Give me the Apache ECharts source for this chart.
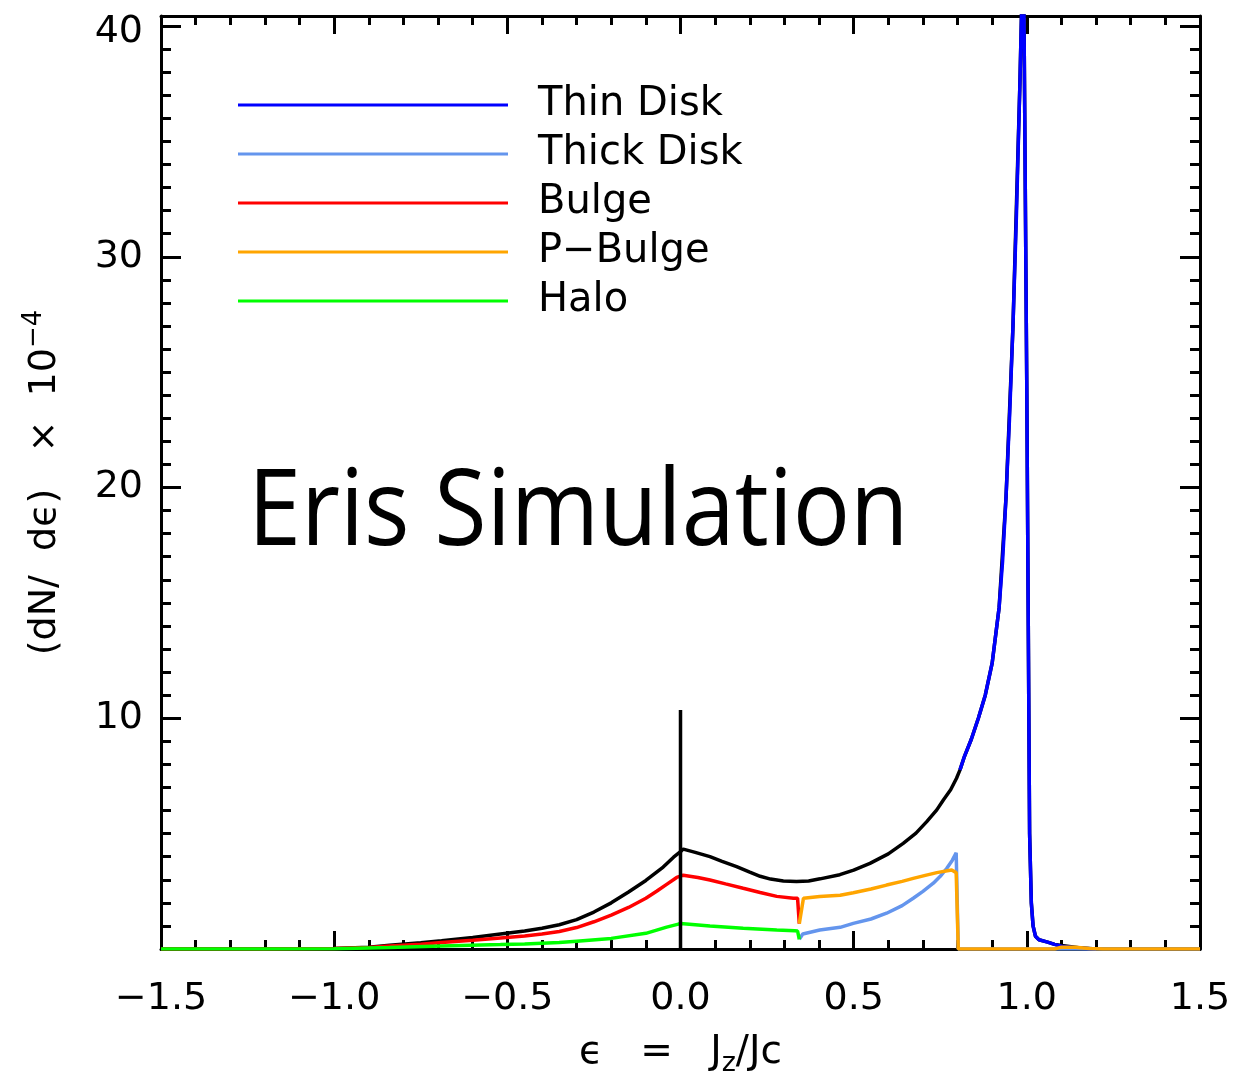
<!DOCTYPE html>
<html>
<head>
<meta charset="utf-8">
<script src="https://cdn.jsdelivr.net/npm/echarts@6/dist/echarts.min.js"></script>
<style>
html,body{margin:0;padding:0;background:#fff;}
#chart{width:1239px;height:1077px;}
</style>
</head>
<body>
<div id="chart"></div>
<script>
// ---- data ----
const xTickLabels = ['−1.5', '−1.0', '−0.5', '0.0', '0.5', '1.0', '1.5'];
const yTickLabels = ['', '10', '20', '30', '40'];
const seriesNames = ['Thin Disk', 'Thick Disk', 'Bulge', 'P−Bulge', 'Halo'];

const totalData = [
  [-1.5, 0], [-1.2, 0], [-1.0, 0.02], [-0.9, 0.08], [-0.84, 0.16], [-0.75, 0.27], [-0.69, 0.36],
  [-0.6, 0.5], [-0.52, 0.65], [-0.45, 0.78], [-0.4, 0.9], [-0.35, 1.05], [-0.3, 1.27],
  [-0.25, 1.6], [-0.2, 2.0], [-0.15, 2.47], [-0.1, 2.97], [-0.05, 3.55], [-0.02, 3.98],
  [0.0, 4.22], [0.008, 4.33], [0.04, 4.2], [0.085, 4.0], [0.12, 3.8],
  [0.162, 3.57], [0.2, 3.33], [0.23, 3.15], [0.26, 3.03], [0.297, 2.95], [0.335, 2.92],
  [0.37, 2.95], [0.403, 3.04], [0.46, 3.22], [0.5, 3.42], [0.547, 3.71], [0.6, 4.12],
  [0.643, 4.58], [0.68, 5.02], [0.711, 5.52], [0.74, 6.03], [0.759, 6.46], [0.78, 6.9],
  [0.797, 7.4], [0.807, 7.76], [0.82, 8.35], [0.84, 9.1], [0.86, 10.0], [0.88, 11.0],
  [0.9, 12.4], [0.92, 14.8], [0.94, 19.6], [0.96, 27.0], [0.98, 37.5], [0.99, 44.0],
  [1.0, 24.0], [1.008, 5.0], [1.013, 2.0], [1.018, 1.0], [1.025, 0.55], [1.035, 0.4],
  [1.06, 0.3], [1.08, 0.2], [1.1, 0.15], [1.15, 0.05], [1.2, 0], [1.5, 0]
];
const thinDiskData = [
  [0.807, 7.76], [0.82, 8.35], [0.84, 9.1], [0.86, 10.0], [0.88, 11.0], [0.9, 12.4],
  [0.92, 14.8], [0.93, 16.8], [0.94, 19.6], [0.95, 23.0], [0.96, 27.0], [0.97, 31.8],
  [0.98, 37.5], [0.99, 44.0], [1.0, 24.0], [1.008, 5.0], [1.013, 2.0], [1.018, 1.0],
  [1.025, 0.55], [1.035, 0.4], [1.06, 0.3], [1.08, 0.2], [1.1, 0.12], [1.15, 0.03], [1.2, 0]
];
const thickDiskData = [
  [0.343, 0.42], [0.353, 0.65], [0.402, 0.82], [0.461, 0.94], [0.499, 1.11], [0.55, 1.3],
  [0.595, 1.55], [0.64, 1.88], [0.672, 2.2], [0.7, 2.5], [0.73, 2.85], [0.75, 3.15],
  [0.769, 3.5], [0.785, 3.85], [0.796, 4.17], [0.802, 0], [1.5, 0]
];
const bulgeData = [
  [-1.5, 0], [-1.2, 0], [-1.0, 0.02], [-0.9, 0.06], [-0.84, 0.13], [-0.75, 0.21], [-0.69, 0.28],
  [-0.6, 0.38], [-0.52, 0.48], [-0.45, 0.56], [-0.4, 0.65], [-0.35, 0.76], [-0.3, 0.93],
  [-0.25, 1.18], [-0.2, 1.47], [-0.15, 1.8], [-0.1, 2.2], [-0.069, 2.5], [-0.04, 2.8],
  [-0.011, 3.1], [0.008, 3.2], [0.05, 3.1], [0.085, 2.99], [0.13, 2.82], [0.181, 2.63],
  [0.23, 2.45], [0.278, 2.28], [0.326, 2.2], [0.338, 2.2], [0.343, 1.1]
];
const pBulgeData = [
  [0.343, 1.1], [0.355, 2.2], [0.402, 2.27], [0.461, 2.33], [0.499, 2.44], [0.55, 2.6],
  [0.595, 2.77], [0.64, 2.93], [0.672, 3.06], [0.71, 3.2], [0.74, 3.31], [0.783, 3.42],
  [0.796, 3.31], [0.802, 0], [1.08, 0], [1.1, 0.08], [1.14, 0.08], [1.18, 0.02], [1.22, 0], [1.5, 0]
];
const haloData = [
  [-1.5, 0], [-1.2, 0], [-1.0, 0.01], [-0.84, 0.07], [-0.69, 0.13], [-0.52, 0.19], [-0.45, 0.22],
  [-0.35, 0.28], [-0.3, 0.34], [-0.2, 0.46], [-0.1, 0.68], [-0.04, 0.95], [-0.006, 1.08],
  [0.0, 1.1], [0.085, 1.0], [0.181, 0.9], [0.278, 0.82], [0.33, 0.79], [0.338, 0.78], [0.343, 0.42]
];
const zeroMarkerData = [[0, 0], [0, 10.36]];

const colors = {
  total: '#000000', thin: '#0000ff', thick: '#6495ed', bulge: '#ff0000', pbulge: '#ffa500', halo: '#00ff00'
};

// ---- chart ----
const FONT = 'DejaVu Sans';
const chart = echarts.init(document.getElementById('chart'), null, { renderer: 'canvas' });

function lineSeries(name, data, color) {
  return {
    name: name, type: 'line', data: data, xAxisIndex: 0, yAxisIndex: 0,
    symbol: 'none', showSymbol: false, smooth: false, clip: true,
    lineStyle: { color: color, width: 3.5 }, itemStyle: { color: color },
    emphasis: { disabled: true }, silent: true, z: 3
  };
}

const frameAxisLine = { show: true, onZero: false, lineStyle: { color: '#000', width: 3 } };

const option = {
  animation: false,
  backgroundColor: '#ffffff',
  grid: [
    { left: 161, right: 39, top: 16, bottom: 128, containLabel: false, outerBoundsMode: 'none' },
    { left: 161, right: 39, top: 26, bottom: 128, containLabel: false, outerBoundsMode: 'none' }
  ],
  legend: {
    data: seriesNames,
    orient: 'vertical',
    left: 238, top: 85,
    padding: 0,
    icon: 'rect',
    itemWidth: 270, itemHeight: 3,
    itemGap: 9,
    selectedMode: false,
    textStyle: { fontFamily: FONT, fontSize: 40, color: '#000', lineHeight: 40, padding: [0, 0, 0, 25] }
  },
  xAxis: [
    {
      type: 'value', gridIndex: 0, position: 'bottom', min: -1.5, max: 1.5, interval: 0.5,
      axisLine: frameAxisLine,
      axisTick: { show: true, inside: true, length: 18, lineStyle: { color: '#000', width: 3 } },
      minorTick: { show: true, splitNumber: 5, length: 9, lineStyle: { color: '#000', width: 3 } },
      splitLine: { show: false },
      axisLabel: {
        show: true, margin: 31, fontFamily: FONT, fontSize: 38, color: '#000',
        formatter: function (v) { return xTickLabels[Math.round((v + 1.5) / 0.5)]; }
      },
      name: '{a|ϵ   =   J}{s|z}{a|/Jc}',
      nameLocation: 'middle', nameGap: 80,
      nameTextStyle: {
        fontFamily: FONT, fontSize: 38, color: '#000',
        rich: {
          a: { fontFamily: FONT, fontSize: 39, lineHeight: 48, color: '#000' },
          s: { fontFamily: FONT, fontSize: 27, lineHeight: 26, color: '#000', verticalAlign: 'bottom' }
        }
      }
    },
    {
      type: 'value', gridIndex: 0, position: 'top', min: -1.5, max: 1.5, interval: 0.5,
      axisLine: frameAxisLine,
      axisTick: { show: true, inside: true, length: 18, lineStyle: { color: '#000', width: 3 } },
      minorTick: { show: true, splitNumber: 5, length: 9, lineStyle: { color: '#000', width: 3 } },
      splitLine: { show: false }, axisLabel: { show: false }
    },
    {
      type: 'value', gridIndex: 1, min: -1.5, max: 1.5, show: false
    }
  ],
  yAxis: [
    {
      type: 'value', gridIndex: 0, position: 'left', min: 0, max: 40.43,
      axisLine: frameAxisLine, axisTick: { show: false }, minorTick: { show: false },
      splitLine: { show: false }, axisLabel: { show: false },
      name: '{a|(dN/  dϵ)   ×  10}{s|−4}',
      nameLocation: 'middle', nameRotate: 90, nameGap: 92,
      nameTextStyle: {
        fontFamily: FONT, fontSize: 38, color: '#000',
        rich: {
          a: { fontFamily: FONT, fontSize: 38, lineHeight: 48, color: '#000' },
          s: { fontFamily: FONT, fontSize: 26, lineHeight: 26, color: '#000', verticalAlign: 'top' }
        }
      }
    },
    {
      type: 'value', gridIndex: 0, position: 'right', min: 0, max: 40.43,
      axisLine: frameAxisLine, axisTick: { show: false }, minorTick: { show: false },
      splitLine: { show: false }, axisLabel: { show: false }
    },
    {
      type: 'value', gridIndex: 1, position: 'left', min: 0, max: 40, interval: 10,
      axisLine: { show: false, onZero: false },
      axisTick: { show: true, inside: true, length: 20, lineStyle: { color: '#000', width: 3 } },
      minorTick: { show: true, splitNumber: 10, length: 10, lineStyle: { color: '#000', width: 3 } },
      splitLine: { show: false },
      axisLabel: {
        show: true, margin: 18, fontFamily: FONT, fontSize: 38, color: '#000',
        formatter: function (v) {
          const i = Math.round(v / 10);
          return i === 4 ? '{t|' + yTickLabels[i] + '}' : yTickLabels[i];
        },
        rich: { t: { fontFamily: FONT, fontSize: 38, color: '#000', padding: [12, 0, 0, 0] } }
      }
    },
    {
      type: 'value', gridIndex: 1, position: 'right', min: 0, max: 40, interval: 10,
      axisLine: { show: false, onZero: false },
      axisTick: { show: true, inside: true, length: 20, lineStyle: { color: '#000', width: 3 } },
      minorTick: { show: true, splitNumber: 10, length: 10, lineStyle: { color: '#000', width: 3 } },
      splitLine: { show: false }, axisLabel: { show: false }
    }
  ],
  graphic: [
    {
      type: 'text', x: 248, y: 515, scaleX: 0.9, z: 10,
      style: { text: 'Eris Simulation', font: '106px "Open Sans"', fill: '#000', align: 'left', verticalAlign: 'middle' }
    }
  ],
  series: [
    lineSeries('Total', totalData, colors.total),
    lineSeries('Thin Disk', thinDiskData, colors.thin),
    lineSeries('Thick Disk', thickDiskData, colors.thick),
    lineSeries('Bulge', bulgeData, colors.bulge),
    lineSeries('P−Bulge', pBulgeData, colors.pbulge),
    lineSeries('Halo', haloData, colors.halo),
    lineSeries('x0', zeroMarkerData, colors.total)
  ]
};
chart.setOption(option);
</script>
</body>
</html>
